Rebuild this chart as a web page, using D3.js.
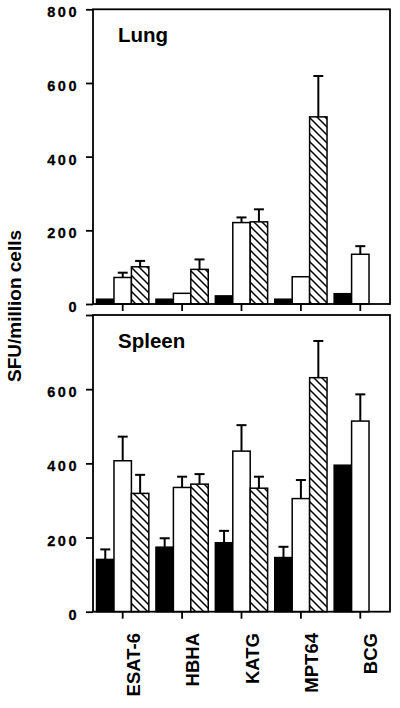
<!DOCTYPE html>
<html><head><meta charset="utf-8">
<script src="https://cdn.jsdelivr.net/npm/d3@7"></script>
<style>
html,body{margin:0;padding:0;background:#fff;}
svg{display:block;}
text{font-family:"Liberation Sans",Arial,Helvetica,sans-serif;font-weight:bold;fill:#000;}
</style></head>
<body>
<svg id="chart" width="400" height="708"></svg>
<script>
const categories = ["ESAT-6","HBHA","KATG","MPT64","BCG"];
const seriesKeys = ["black","open","hatched"];
const yTicks = [0,200,400,600,800];
const yTickLabelsLung = ["0","200","400","600","800"];
const yTickLabelsSpleen = ["0","200","400","600",""];

const lungBlack      = [13, 13, 22, 13, 28];
const lungBlackErr   = [null,null,null,null,null];
const lungOpen       = [72, 29, 221, 74, 135];
const lungOpenErr    = [85, null, 235, null, 157];
const lungHatched    = [101, 94, 223, 508, null];
const lungHatchedErr = [117, 121, 257, 619, null];

const spleenBlack      = [141, 174, 186, 146, 395];
const spleenBlackErr   = [168, 198, 218, 175, null];
const spleenOpen       = [407, 335, 433, 305, 514];
const spleenOpenErr    = [472, 364, 503, 355, 586];
const spleenHatched    = [319, 344, 333, 631, null];
const spleenHatchedErr = [369, 371, 364, 730, null];

const svg = d3.select("#chart");
const defs = svg.append("defs");
const pat = defs.append("pattern").attr("id","hatch")
  .attr("patternUnits","userSpaceOnUse").attr("width",8).attr("height",8);
pat.append("rect").attr("width",8).attr("height",8).attr("fill","#fff");
pat.append("path").attr("d","M0,0L8,8M-2,6L2,10M6,-2L10,2")
  .attr("stroke","#000").attr("stroke-width",1.5);

const x0 = 93, x1 = 390;
const x = d3.scaleBand().domain(categories).range([x0,x1]).paddingInner(0.12).paddingOuter(0.06);
const xs = d3.scaleBand().domain(seriesKeys).range([0,x.bandwidth()]);

function panel(top, bottom, title, data, tickLabels){
  const y = d3.scaleLinear().domain([0,800]).range([bottom, top]);
  const g = svg.append("g");
  data.forEach(s => {
    const rows = categories.map((c,i)=>({c, v:s.vals[i], e:s.errs[i]})).filter(d=>d.v!=null);
    rows.filter(d=>d.e!=null).forEach(d=>{
      const cx = x(d.c)+xs(s.key)+xs.bandwidth()/2;
      g.append("line").attr("x1",cx).attr("x2",cx).attr("y1",y(d.v)).attr("y2",y(d.e))
        .attr("stroke","#000").attr("stroke-width",2);
      g.append("line").attr("x1",cx-5).attr("x2",cx+5).attr("y1",y(d.e)).attr("y2",y(d.e))
        .attr("stroke","#000").attr("stroke-width",2);
    });
    g.selectAll(null).data(rows).enter().append("rect")
      .attr("x",d=>x(d.c)+xs(s.key))
      .attr("width",xs.bandwidth())
      .attr("y",d=>y(d.v))
      .attr("height",d=>y(0)-y(d.v))
      .attr("fill",s.fill)
      .attr("stroke","#000").attr("stroke-width",1.5);
  });
  g.append("rect").attr("x",x0).attr("y",top).attr("width",x1-x0).attr("height",bottom-top)
    .attr("fill","none").attr("stroke","#000").attr("stroke-width",1.8);
  const ya = d3.axisLeft(y).tickValues(yTicks).tickSize(7).tickFormat((d,i)=>tickLabels[i]);
  const yg = g.append("g").attr("transform",`translate(${x0},0)`).call(ya);
  yg.select(".domain").remove();
  yg.selectAll(".tick line").attr("stroke","#000").attr("stroke-width",1.8);
  yg.selectAll(".tick text").attr("x",-14).attr("dy","7.5px").attr("font-size","14.5px")
    .attr("letter-spacing","2.5px").attr("stroke","#000").attr("stroke-width",0.3)
    .style("font-family",'"Liberation Sans",Arial,sans-serif').style("font-weight","bold");
  const xa = d3.axisBottom(x).tickSize(7).tickFormat("");
  const xg = g.append("g").attr("transform",`translate(0,${bottom})`).call(xa);
  xg.select(".domain").remove();
  xg.selectAll(".tick line").attr("stroke","#000").attr("stroke-width",1.8);
  g.append("text").attr("x",118).attr("y",top+33).attr("font-size","20.5px").text(title);
  return y;
}

panel(9.3, 304, "Lung", [
  {key:"black", vals:lungBlack, errs:lungBlackErr, fill:"#000"},
  {key:"open", vals:lungOpen, errs:lungOpenErr, fill:"#fff"},
  {key:"hatched", vals:lungHatched, errs:lungHatchedErr, fill:"url(#hatch)"}
], yTickLabelsLung);

panel(315, 611.7, "Spleen", [
  {key:"black", vals:spleenBlack, errs:spleenBlackErr, fill:"#000"},
  {key:"open", vals:spleenOpen, errs:spleenOpenErr, fill:"#fff"},
  {key:"hatched", vals:spleenHatched, errs:spleenHatchedErr, fill:"url(#hatch)"}
], yTickLabelsSpleen);

svg.selectAll(".cat").data(categories).enter().append("text")
  .attr("class","cat")
  .attr("transform",d=>`translate(${x(d)+x.bandwidth()/2+17},633) rotate(-90)`)
  .attr("text-anchor","end").attr("font-size","18.5px").text(d=>d);

svg.append("text").attr("transform","translate(21,306) rotate(-90)")
  .attr("text-anchor","middle").attr("font-size","19px").text("SFU/million cells");
</script>
</body></html>
